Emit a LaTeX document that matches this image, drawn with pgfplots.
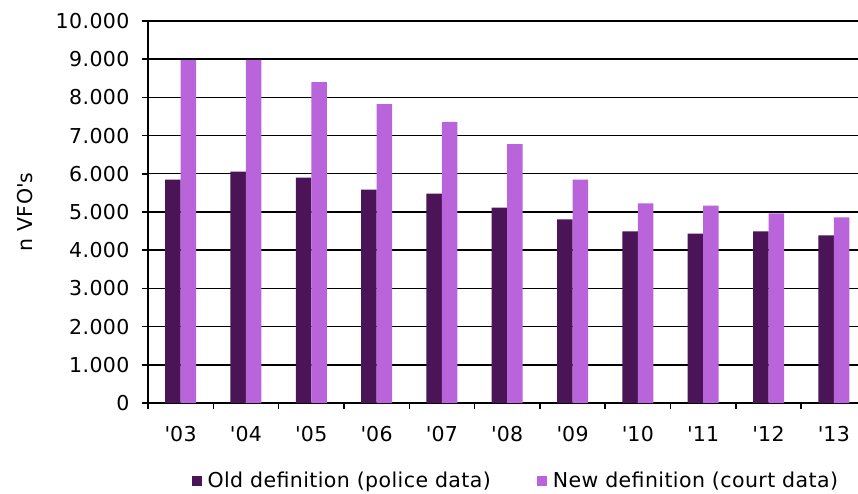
\documentclass[border=0pt]{standalone}
\usepackage{fontspec}
\setmainfont{DejaVu Sans}[LetterSpace=2]
\usepackage{pgfplots}
\pgfplotsset{compat=1.18}
\definecolor{olddef}{HTML}{4A1457}
\definecolor{newdef}{HTML}{BA64DC}
\begin{document}
\begin{tikzpicture}
\begin{axis}[
  scale only axis,
  width=710bp, height=382bp,
  font=\fontsize{20.5bp}{24bp}\selectfont,
  ybar=0pt, bar width=15.5bp,
  xmin=-0.5, xmax=10.37,
  ymin=0, ymax=10000,
  ytick={0,1000,...,10000},
  xtick={0,...,10},
  xticklabels={\textquotesingle 03,\textquotesingle 04,\textquotesingle 05,\textquotesingle 06,\textquotesingle 07,\textquotesingle 08,\textquotesingle 09,\textquotesingle 10,\textquotesingle 11,\textquotesingle 12,\textquotesingle 13},
  minor xtick={-0.5,0.5,...,10.5},
  axis lines*=left,
  axis line style={line width=1.8bp, black},
  tick align=outside,
  major x tick style={draw=none},
  minor x tick style={line width=1.5bp, black},
  minor tick length=6bp,
  major y tick style={line width=1.5bp, black},
  major tick length=6bp,
  ymajorgrids,
  grid style={line width=1.4bp, black},
  scaled y ticks=false,
  /pgf/number format/.cd, 1000 sep={.}, assume math mode=true,
  /pgfplots/.cd,
  yticklabel style={xshift=-9bp},
  xticklabel style={yshift=-14bp},
  ylabel={n VFO\textquotesingle s},
  ylabel style={at={(axis description cs:-0.173,0.5)}, anchor=center},
  clip=true,
  legend columns=2,
  legend style={at={(rel axis cs:0.518,-0.204)}, anchor=center, draw=none,
    fill=none, /tikz/every even column/.append style={column sep=44bp},
    font=\fontsize{20.5bp}{24bp}\selectfont},
  legend image code/.code={\fill[#1] (0bp,-5bp) rectangle (10bp,5bp); \path (14bp,0bp);},
]
\addplot[fill=olddef, draw=none] coordinates {
 (0,5845) (1,6055) (2,5898) (3,5584) (4,5479) (5,5113) (6,4809) (7,4495) (8,4433) (9,4495) (10,4390)};
\addplot[fill=newdef, draw=none] coordinates {
 (0,8975) (1,8980) (2,8403) (3,7827) (4,7356) (5,6780) (6,5846) (7,5228) (8,5165) (9,4966) (10,4861)};
\legend{Old definition (police data), New definition (court data)}
\end{axis}
\pgfresetboundingbox
\path[use as bounding box] (-148bp,-91bp) rectangle (710bp,403bp);
\end{tikzpicture}
\end{document}
